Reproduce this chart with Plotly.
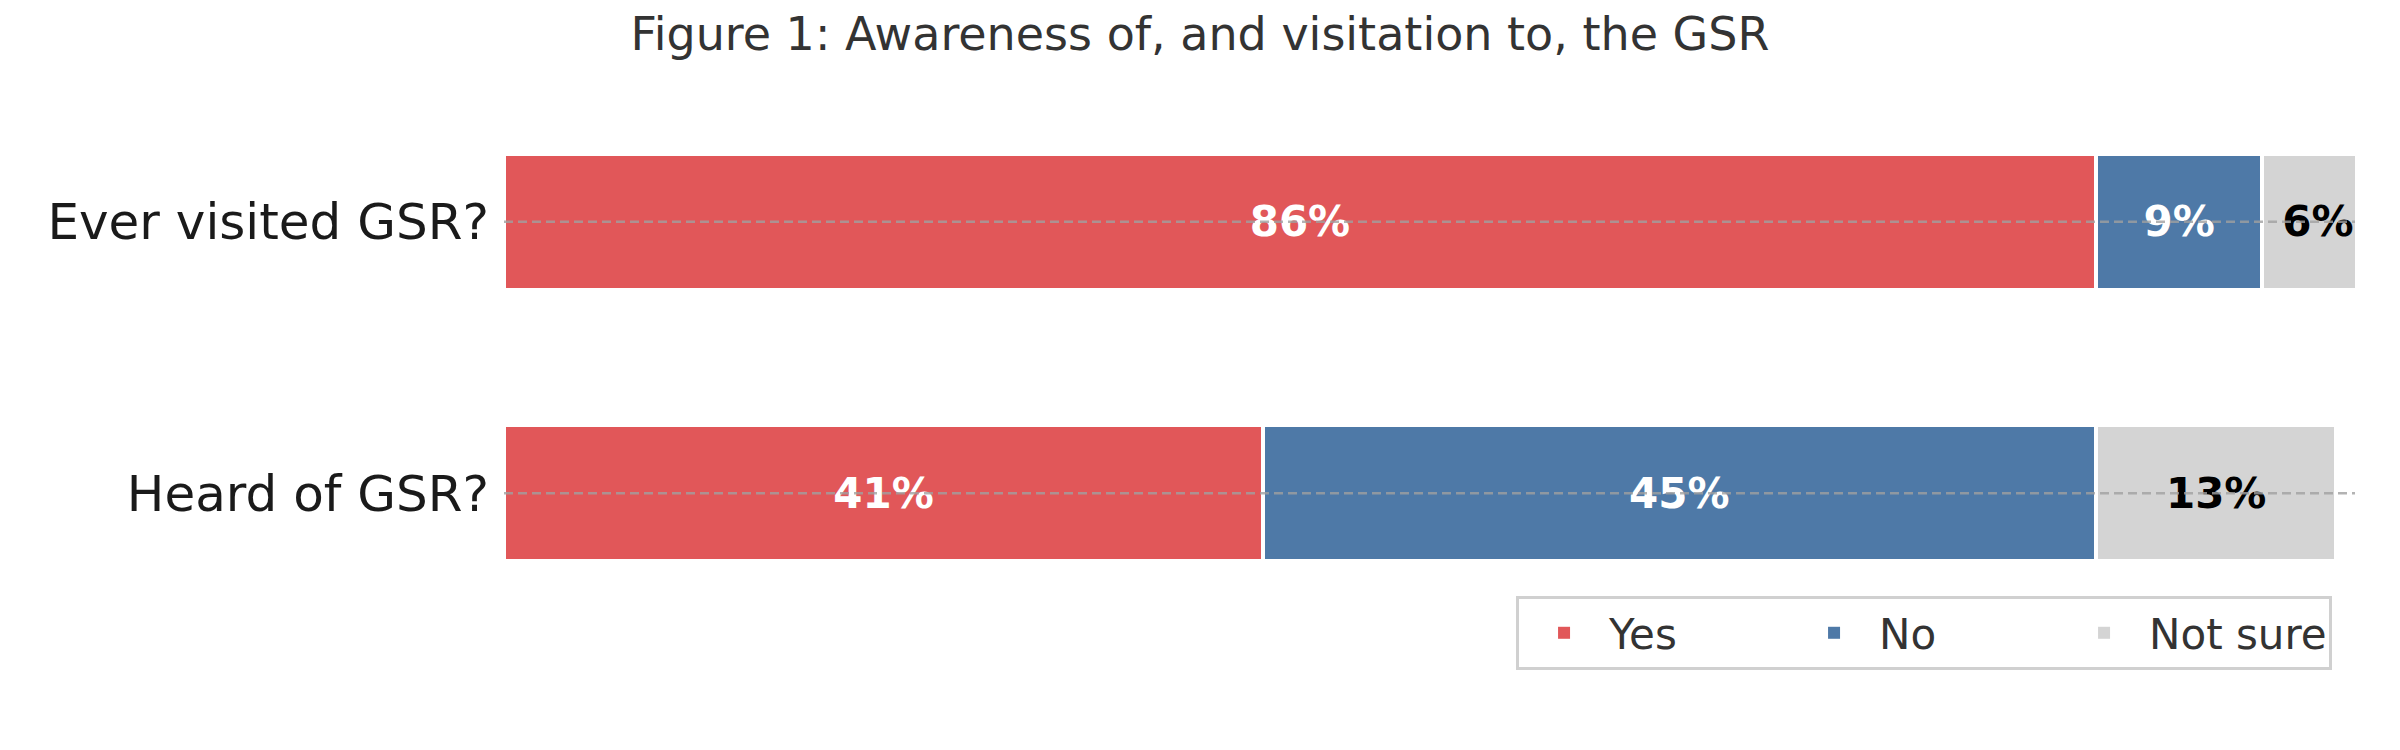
import plotly.graph_objects as go

categories = ["Heard of GSR?", "Ever visited GSR?"]
series_names = ["Yes", "No", "Not sure"]
yes_vals = [41, 86]
no_vals = [45, 9]
notsure_vals = [13, 6]
colors = ["#E15759", "#4E79A7", "#D4D4D4"]
text_colors = ["white", "white", "black"]

series = [yes_vals, no_vals, notsure_vals]

fig = go.Figure()
for name, vals, col, tc in zip(series_names, series, colors, text_colors):
    fig.add_trace(go.Bar(
        y=categories, x=vals, name=name, orientation="h",
        legendgroup=name, showlegend=False,
        marker=dict(color=col, line=dict(color="white", width=4)),
        width=0.5,
        text=[f"{v}%" for v in vals],
        textposition="inside", insidetextanchor="middle",
        textangle=0, constraintext="none",
        textfont=dict(family="DejaVu Sans", size=42, color=tc, weight="bold"),
        hoverinfo="skip",
    ))
# legend entries (no white outline on the swatch)
for name, col in zip(series_names, colors):
    fig.add_trace(go.Bar(
        y=[None], x=[None], name=name, orientation="h", legendgroup=name,
        marker=dict(color=col, line=dict(width=0)), showlegend=True, hoverinfo="skip",
    ))

for c in categories:
    fig.add_shape(type="line", xref="x domain", yref="y", x0=0, x1=1, y0=c, y1=c,
                  line=dict(color="rgba(160,160,160,0.8)", width=2.5, dash="9px,5px"),
                  layer="above")

fig.update_layout(
    barmode="stack",
    width=2400, height=750,
    paper_bgcolor="white", plot_bgcolor="white",
    margin=dict(l=496, r=53, t=78, b=129),
    title=dict(text="Figure 1: Awareness of, and visitation to, the GSR",
               x=1192 / 2400, xref="container", xanchor="center",
               y=1 - 26 / 750, yref="container", yanchor="middle",
               font=dict(family="DejaVu Sans", size=46, color="#333333")),
    xaxis=dict(range=[0, 100], visible=False, showgrid=False, zeroline=False),
    yaxis=dict(range=[-0.5, 1.5], showgrid=False, zeroline=False, showline=False,
               ticks="", ticklabelstandoff=14,
               tickfont=dict(family="DejaVu Sans", size=50, color="#1a1a1a")),
    showlegend=True,
    legend=dict(orientation="h", x=0.9876, xanchor="right", y=0.0608, yanchor="top",
                bgcolor="white", bordercolor="#d0d0d0", borderwidth=3,
                font=dict(family="DejaVu Sans", size=42, color="#333333"),
                itemwidth=80, entrywidth=175, traceorder="normal"),
)

fig.write_html("out.html")
